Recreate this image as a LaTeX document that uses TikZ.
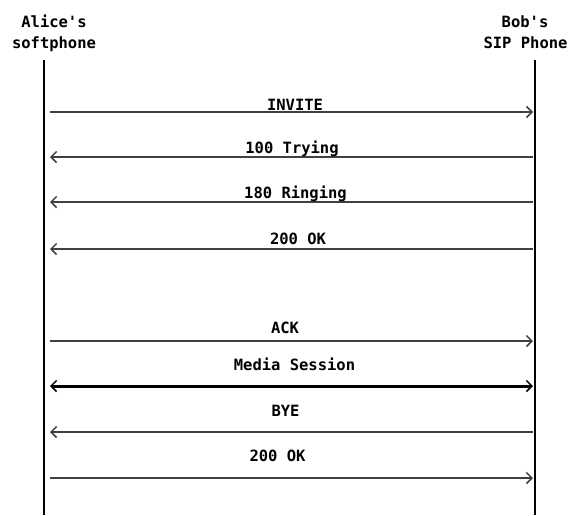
\documentclass[tikz,border=0pt]{standalone}
\usepackage{fontspec}
\setmonofont{DejaVu Sans Mono}
\usepackage{xcolor}
\usetikzlibrary{arrows.meta}

\definecolor{msggray}{RGB}{64,64,64}

\tikzset{
    lifeline/.style={line width=2pt, black},
    msg/.style={line width=1.2pt, msggray},
    session/.style={line width=3pt, black},
    lbl/.style={font=\ttfamily\bfseries\fontsize{15.5}{17}\selectfont, anchor=base, inner sep=0pt},
}

\begin{document}
\begin{tikzpicture}[x=1pt, y=-1pt, >={Straight Barb[length=5.5pt,width=11pt,line width=1.5pt]}]
    \useasboundingbox (0,0) rectangle (569,515);

    % heads
    \node[lbl] (alice1) at (54,27) {Alice's};
    \node[lbl] (alice2) at (54,48) {softphone};
    \node[lbl] (bob1) at (525,27) {Bob's};
    \node[lbl] (bob2) at (525.5,48) {SIP Phone};

    % lifelines
    \draw[lifeline] (44,60) coordinate(A) -- (44,515) coordinate(A1);
    \draw[lifeline] (535,60) coordinate(B) -- (535,515) coordinate(B1);

    % messages
    \foreach \y/\ty/\tx/\d/\txt in {112/110/295/->/INVITE,
                                    157/153/292/<-/100 Trying,
                                    202/198/295.5/<-/180 Ringing,
                                    249/244/298/<-/200 OK,
                                    341/333/285/->/ACK,
                                    432/416/285.5/<-/BYE,
                                    478/461/277.5/->/200 OK}
    {
        \coordinate (l\y) at (50,\y);
        \coordinate (r\y) at (533,\y);
        \draw[msg,\d] (l\y) -- (r\y);
        \node[lbl] (m\y) at (\tx,\ty) {\txt};
    }

    % media session
    \coordinate (lms) at (50,386);
    \coordinate (rms) at (533,386);
    \draw[session,<->] (lms) -- (rms);
    \node[lbl] (ms) at (294.5,370) {Media Session};
\end{tikzpicture}
\end{document}
